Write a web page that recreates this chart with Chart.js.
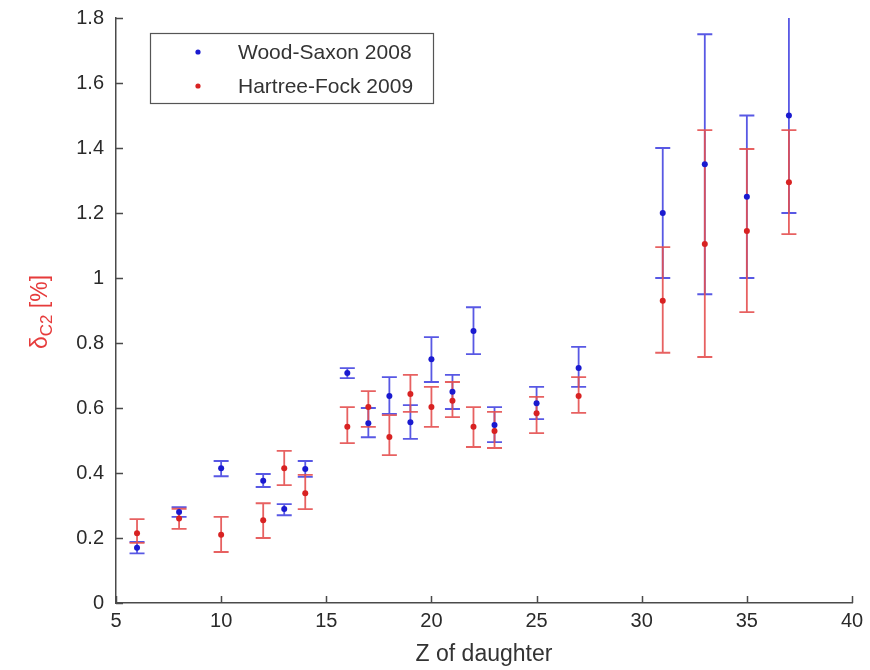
<!DOCTYPE html>
<html>
<head>
<meta charset="utf-8">
<title>delta C2 vs Z of daughter</title>
<script src="https://cdn.jsdelivr.net/npm/chart.js@4.4.1/dist/chart.umd.min.js"></script>
<style>
  html, body { margin: 0; padding: 0; background: #fff; }
  #wrap { width: 870px; height: 670px; }
</style>
</head>
<body>
<div id="wrap"><canvas id="chart" width="870" height="670"></canvas></div>
<script>
// Z of daughter nucleus (shared by both calculations)
const zDaughter = [6, 8, 10, 12, 13, 14, 16, 17, 18, 19, 20, 21, 22, 23, 25, 27, 31, 33, 35, 37];

// Wood-Saxon 2008: value, lower and upper end of the error bar
const wsValues = [0.17, 0.28, 0.415, 0.376, 0.289, 0.412, 0.708, 0.553, 0.637, 0.556, 0.75, 0.65, 0.837, 0.548, 0.615, 0.723, 1.2, 1.35, 1.25, 1.5];
const wsLow    = [0.153, 0.265, 0.39, 0.357, 0.27, 0.388, 0.692, 0.51, 0.582, 0.505, 0.68, 0.597, 0.766, 0.495, 0.566, 0.665, 1.0, 0.95, 1.0, 1.2];
const wsHigh   = [0.188, 0.295, 0.437, 0.397, 0.304, 0.437, 0.723, 0.60, 0.695, 0.609, 0.818, 0.702, 0.91, 0.603, 0.665, 0.788, 1.4, 1.75, 1.5, 1.85];

// Hartree-Fock 2009
const hfValues = [0.215, 0.26, 0.21, 0.255, 0.415, 0.338, 0.542, 0.603, 0.511, 0.643, 0.603, 0.622, 0.542, 0.529, 0.584, 0.637, 0.93, 1.105, 1.145, 1.295];
const hfLow    = [0.185, 0.228, 0.157, 0.2, 0.363, 0.289, 0.492, 0.542, 0.455, 0.588, 0.542, 0.572, 0.48, 0.477, 0.523, 0.585, 0.77, 0.757, 0.895, 1.135];
const hfHigh   = [0.258, 0.29, 0.265, 0.307, 0.468, 0.394, 0.603, 0.652, 0.578, 0.702, 0.665, 0.68, 0.603, 0.588, 0.634, 0.695, 1.095, 1.455, 1.397, 1.455];

const xTicks = [5, 10, 15, 20, 25, 30, 35, 40];
const yTicks = [0, 0.2, 0.4, 0.6, 0.8, 1, 1.2, 1.4, 1.6, 1.8];

const seriesNames = ['Wood-Saxon 2008', 'Hartree-Fock 2009'];

const FONT = '"Liberation Sans", Arial, sans-serif';
const AXIS_COLOR = '#4a4a4a';

function toPoints(vals, lo, hi) {
  return zDaughter.map((z, i) => ({ x: z, y: vals[i], yMin: lo[i], yMax: hi[i] }));
}

// vertical error bars with caps, drawn under the markers
const errorBars = {
  id: 'errorBars',
  beforeDatasetsDraw(chart) {
    const { ctx, chartArea, scales: { x, y } } = chart;
    ctx.save();
    ctx.beginPath();
    ctx.rect(chartArea.left, chartArea.top, chartArea.right - chartArea.left + 10, chartArea.bottom - chartArea.top);
    ctx.clip();
    chart.data.datasets.forEach(ds => {
      ctx.strokeStyle = ds.errorColor;
      ctx.lineWidth = 1.8;
      ds.data.forEach(p => {
        const px = x.getPixelForValue(p.x);
        const lo = y.getPixelForValue(p.yMin);
        const hi = y.getPixelForValue(p.yMax);
        ctx.beginPath();
        ctx.moveTo(px, lo); ctx.lineTo(px, hi);
        ctx.moveTo(px - 7.5, lo); ctx.lineTo(px + 7.5, lo);
        ctx.moveTo(px - 7.5, hi); ctx.lineTo(px + 7.5, hi);
        ctx.stroke();
      });
    });
    ctx.restore();
  }
};

// matlab style decorations: inward ticks, axis titles and the boxed legend
const decorations = {
  id: 'decorations',
  afterDraw(chart) {
    const { ctx, chartArea: a, scales: { x, y } } = chart;
    ctx.save();

    // inward tick marks
    ctx.strokeStyle = AXIS_COLOR;
    ctx.lineWidth = 1.5;
    ctx.beginPath();
    xTicks.forEach(v => {
      const px = Math.round(x.getPixelForValue(v)) + 0.5;
      ctx.moveTo(px, a.bottom); ctx.lineTo(px, a.bottom - 7);
    });
    yTicks.forEach(v => {
      const py = Math.round(y.getPixelForValue(v)) + 0.5;
      ctx.moveTo(a.left, py); ctx.lineTo(a.left + 7, py);
    });
    ctx.stroke();

    // x title
    ctx.fillStyle = '#333';
    ctx.font = '23px ' + FONT;
    ctx.textAlign = 'center';
    ctx.textBaseline = 'middle';
    ctx.fillText('Z of daughter', (a.left + a.right) / 2, 655);

    // y title: delta with subscript C2, in red
    ctx.save();
    ctx.translate(40, 312);
    ctx.rotate(-Math.PI / 2);
    ctx.fillStyle = '#e63b3b';
    ctx.textAlign = 'left';
    ctx.textBaseline = 'alphabetic';
    const big = '23px ' + FONT, small = '17px ' + FONT;
    ctx.font = big;
    const w1 = ctx.measureText('\u03b4').width;
    const w3 = ctx.measureText(' [%]').width;
    ctx.font = small;
    const w2 = ctx.measureText('C2').width;
    let cx = -(w1 + w2 + w3) / 2;
    ctx.font = big;
    ctx.fillText('\u03b4', cx, 7);
    cx += w1;
    ctx.font = small;
    ctx.fillText('C2', cx, 12);
    cx += w2;
    ctx.font = big;
    ctx.fillText(' [%]', cx, 7);
    ctx.restore();

    // legend box
    const bx = 150.5, by = 33.5, bw = 283, bh = 70;
    ctx.fillStyle = '#fff';
    ctx.fillRect(bx, by, bw, bh);
    ctx.strokeStyle = '#555';
    ctx.lineWidth = 1.2;
    ctx.strokeRect(bx, by, bw, bh);
    ctx.font = '21px ' + FONT;
    ctx.textAlign = 'left';
    ctx.textBaseline = 'middle';
    chart.data.datasets.forEach((ds, i) => {
      const ly = 52 + i * 34;
      ctx.fillStyle = ds.backgroundColor;
      ctx.beginPath();
      ctx.arc(198, ly, 2.6, 0, Math.PI * 2);
      ctx.fill();
      ctx.fillStyle = '#333';
      ctx.fillText(ds.label, 238, ly + 1);
    });

    ctx.restore();
  }
};

Chart.defaults.font.family = FONT;

new Chart(document.getElementById('chart'), {
  type: 'scatter',
  data: {
    datasets: [
      {
        label: seriesNames[0],
        data: toPoints(wsValues, wsLow, wsHigh),
        backgroundColor: '#1a1ad0',
        borderColor: '#1a1ad0',
        errorColor: 'rgba(70, 70, 225, 0.9)',
        pointRadius: 3,
        pointBorderWidth: 0
      },
      {
        label: seriesNames[1],
        data: toPoints(hfValues, hfLow, hfHigh),
        backgroundColor: '#d82222',
        borderColor: '#d82222',
        errorColor: 'rgba(228, 80, 80, 0.9)',
        pointRadius: 3,
        pointBorderWidth: 0
      }
    ]
  },
  options: {
    responsive: false,
    animation: false,
    layout: { padding: { top: 18, right: 18, left: 0, bottom: 0 } },
    plugins: {
      legend: { display: false },
      tooltip: { enabled: false }
    },
    scales: {
      x: {
        type: 'linear',
        min: 5,
        max: 40,
        afterBuildTicks: s => { s.ticks = xTicks.map(v => ({ value: v })); },
        afterFit: s => { s.height = 67; },
        grid: { display: false },
        border: { display: true, color: AXIS_COLOR, width: 1.5 },
        ticks: { color: '#2a2a2a', font: { size: 20 }, padding: -2, maxRotation: 0 }
      },
      y: {
        type: 'linear',
        min: 0,
        max: 1.8,
        afterBuildTicks: s => { s.ticks = yTicks.map(v => ({ value: v })); },
        afterFit: s => { s.width = 116; },
        grid: { display: false },
        border: { display: true, color: AXIS_COLOR, width: 1.5 },
        ticks: {
          color: '#2a2a2a',
          font: { size: 20 },
          padding: 4,
          callback: v => String(Number(v.toFixed(1)))
        }
      }
    }
  },
  plugins: [errorBars, decorations]
});
</script>
</body>
</html>
